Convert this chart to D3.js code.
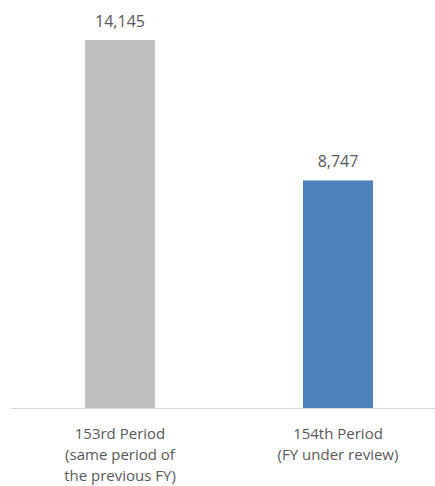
<!DOCTYPE html>
<html>
<head>
<meta charset="utf-8">
<script src="https://cdn.jsdelivr.net/npm/d3@7"></script>
<style>
  body { margin: 0; background: #fff; }
  text { font-family: "Open Sans", "Liberation Sans", sans-serif; fill: #595959; }
</style>
</head>
<body>
<div id="chart"></div>
<script>
// データ
var categories = ["153rd", "154th"];
var labelLines = [
	["153rd Period", "(same period of", "the previous FY)"],
	["154th Period", "(FY under review)"]
];
var values = [14145, 8747];
var colors = ["#bfbfbf", "#4f81bd"];

var W = 435, H = 486;
var base = 408;

var svg = d3.select("#chart").append("svg")
	.attr("width", W)
	.attr("height", H);

// x: バンドスケール
var x = d3.scaleBand()
	.domain(categories)
	.range([11, 447])
	.paddingInner(0.68)
	.paddingOuter(0.34);

// y: 値スケール
var y = d3.scaleLinear()
	.domain([0, 14145])
	.range([base, 40]);

// 棒
svg.selectAll(".bar")
	.data(values)
	.enter().append("rect")
	.attr("class", "bar")
	.attr("x", function(d, i) { return x(categories[i]) + x.bandwidth() / 2 - 35; })
	.attr("y", function(d) { return y(d); })
	.attr("width", 70)
	.attr("height", function(d) { return base - y(d); })
	.style("fill", function(d, i) { return colors[i]; });

// 軸線
svg.append("line")
	.attr("x1", 11)
	.attr("x2", W)
	.attr("y1", base + 0.5)
	.attr("y2", base + 0.5)
	.style("stroke", "#d9d9d9")
	.style("stroke-width", 1);

// 値ラベル
svg.selectAll(".vlabel")
	.data(values)
	.enter().append("text")
	.attr("class", "vlabel")
	.attr("x", function(d, i) { return x(categories[i]) + x.bandwidth() / 2; })
	.attr("y", function(d) { return y(d) - 13; })
	.style("text-anchor", "middle")
	.style("font-size", "16px")
	.text(function(d) { return d3.format(",")(d); });

// カテゴリラベル
var cl = svg.selectAll(".clabel")
	.data(labelLines)
	.enter().append("text")
	.attr("class", "clabel")
	.attr("transform", function(d, i) { return "translate(" + (x(categories[i]) + x.bandwidth() / 2) + ",439)"; })
	.style("text-anchor", "middle")
	.style("font-size", "15px");

cl.selectAll("tspan")
	.data(function(d) { return d; })
	.enter().append("tspan")
	.attr("x", 0)
	.attr("y", function(d, i) { return i * 21; })
	.text(function(d) { return d; });
</script>
</body>
</html>
